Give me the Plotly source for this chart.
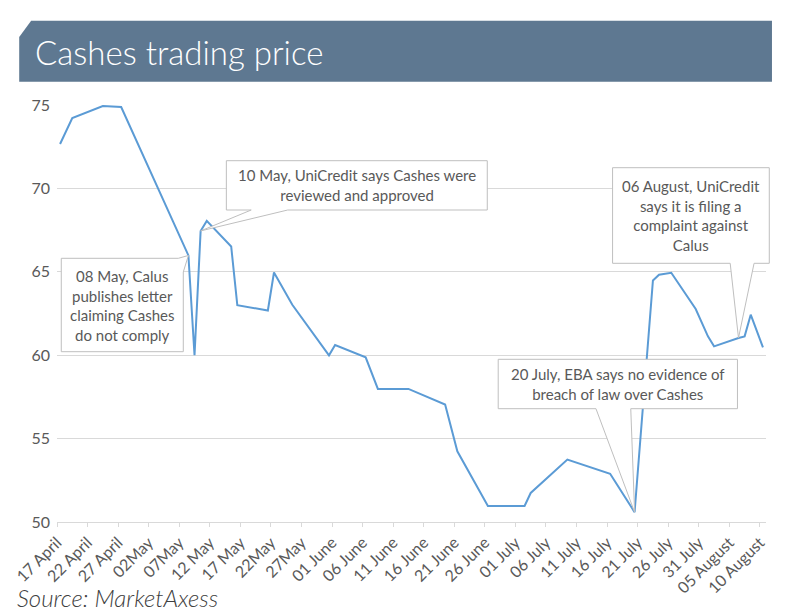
import plotly.graph_objects as go
import pandas as pd

# ---------------- data ----------------
dates = ["2018-04-17", "2018-04-19", "2018-04-24", "2018-04-27", "2018-05-08", "2018-05-09",
         "2018-05-10", "2018-05-11", "2018-05-15", "2018-05-16", "2018-05-21", "2018-05-22",
         "2018-05-25", "2018-05-31", "2018-06-01", "2018-06-06", "2018-06-08", "2018-06-13",
         "2018-06-19", "2018-06-21", "2018-06-26", "2018-07-02", "2018-07-03", "2018-07-09",
         "2018-07-16", "2018-07-20", "2018-07-23", "2018-07-24", "2018-07-26", "2018-07-30",
         "2018-08-01", "2018-08-02", "2018-08-06", "2018-08-07", "2018-08-08", "2018-08-10"]
prices = [72.66, 74.22, 74.94, 74.88, 65.98, 60.0,
          67.45, 68.05, 66.52, 63.0, 62.68, 64.96,
          63.02, 59.99, 60.61, 59.87, 57.98, 57.98,
          57.04, 54.24, 50.96, 50.96, 51.74, 53.74,
          52.89, 50.59, 64.48, 64.82, 64.94, 62.77,
          61.13, 60.53, 61.03, 61.13, 62.43, 60.47]

tick_labels = ["17 April", "22 April", "27 April", "02May", "07May", "12 May", "17 May", "22May",
               "27May", "01 June", "06 June", "11 June", "16 June", "21 June", "26 June", "01 July",
               "06 July", "11 July", "16 July", "21 July", "26 July", "31 July", "05 August", "10 August"]
y_ticks = [50, 55, 60, 65, 70, 75]

event_dates = ["2018-05-10", "2018-05-08", "2018-08-06", "2018-07-20"]
event_texts = ["10 May, UniCredit says Cashes were<br>reviewed and approved",
               "08 May, Calus<br>publishes letter<br>claiming Cashes<br>do not comply",
               "06 August, UniCredit<br>says it is filing a<br>complaint against<br>Calus",
               "20 July, EBA says no evidence of<br>breach of law over Cashes"]

title_text = "Cashes trading price"
source_text = "Source: MarketAxess"

# ---------------- layout geometry ----------------
W, H = 800, 612
ML, MR, MT, MB = 53, 34, 105, 90
PW, PH = W - ML - MR, H - MT - MB
X0 = pd.Timestamp("2018-04-16 12:00")
X1 = pd.Timestamp("2018-08-10 12:00")
Y0, Y1 = 50, 75

def px_x(px):
    return (px - ML) / PW

def px_y(py):
    return (H - MB - py) / PH

def data_x(d):
    return (pd.Timestamp(d) - X0) / (X1 - X0)

def data_y(v):
    return (v - Y0) / (Y1 - Y0)

price_of = dict(zip(dates, prices))

tick_vals = [t - pd.Timedelta(hours=12) for t in pd.date_range("2018-04-17", "2018-08-10", freq="5D")]

TXT = "#595959"
GRID = "#D9D9D9"
FONT = "Lato"

fig = go.Figure()
fig.add_trace(go.Scatter(
    x=pd.to_datetime(dates), y=prices, mode="lines",
    line=dict(color="#5B9BD5", width=2), hoverinfo="skip", showlegend=False))

# ---------------- callouts ----------------
callouts = [
    dict(box=(223.3, 160.7, 485.7, 210.0), kind="bottom", base=(248.3, 285.0)),
    dict(box=(57.3, 258.3, 180.0, 351.7), kind="right", base=(258.3, 272.0)),
    dict(box=(611.7, 167.7, 769.3, 263.3), kind="bottom", base=(730.0, 754.0)),
    dict(box=(496.7, 359.3, 737.3, 408.7), kind="bottom", base=(595.0, 630.0)),
]

shapes = []
annotations = []
for c, d, txt in zip(callouts, event_dates, event_texts):
    x0, y0, x1, y1 = c["box"]
    tx, ty = data_x(d), data_y(price_of[d])
    b0, b1 = c["base"]
    if c["kind"] == "bottom":
        pts = [(px_x(x0), px_y(y0)), (px_x(x1), px_y(y0)), (px_x(x1), px_y(y1)),
               (px_x(b1), px_y(y1)), (tx, ty), (px_x(b0), px_y(y1)), (px_x(x0), px_y(y1))]
    else:
        pts = [(px_x(x0), px_y(y0)), (px_x(x1 - 5), px_y(y0)), (tx, ty),
               (px_x(x1), px_y(b1)), (px_x(x1), px_y(y1)), (px_x(x0), px_y(y1))]
    path = "M " + " L ".join(f"{a:.5f},{b:.5f}" for a, b in pts) + " Z"
    shapes.append(dict(type="path", path=path, xref="paper", yref="paper",
                       fillcolor="white", line=dict(color="#BFBFBF", width=1), layer="above"))
    annotations.append(dict(text=txt, x=px_x((x0 + x1) / 2), y=px_y((y0 + y1) / 2),
                            xref="paper", yref="paper", xanchor="center", yanchor="middle",
                            showarrow=False, align="center",
                            font=dict(family=FONT, size=15, color=TXT)))

# title banner
bpts = [(15, 37), (27, 20.7), (772, 20.7), (772, 81.7), (15, 81.7)]
bpath = "M " + " L ".join(f"{px_x(a):.5f},{px_y(b):.5f}" for a, b in bpts) + " Z"
shapes.insert(0, dict(type="path", path=bpath, xref="paper", yref="paper",
                      fillcolor="#5E7891", line=dict(width=0), layer="above"))

annotations.append(dict(text=title_text, x=px_x(29), y=px_y(52), xref="paper", yref="paper",
                        xanchor="left", yanchor="middle", showarrow=False,
                        font=dict(family=FONT, size=33, color="white", weight=300)))
annotations.append(dict(text=source_text, x=px_x(11), y=px_y(597), xref="paper", yref="paper",
                        xanchor="left", yanchor="middle", showarrow=False,
                        font=dict(family=FONT, size=24, color="#404040", style="italic", weight=300)))

fig.update_layout(
    width=W, height=H,
    margin=dict(l=ML, r=MR, t=MT, b=MB, pad=0),
    paper_bgcolor="white", plot_bgcolor="white",
    shapes=shapes, annotations=annotations,
    xaxis=dict(type="date", range=[X0, X1], tickmode="array", tickvals=tick_vals,
               ticktext=tick_labels, tickangle=-45, showgrid=False, zeroline=False,
               showline=True, linecolor=GRID, linewidth=1, ticks="outside", ticklen=4,
               tickcolor=GRID, tickfont=dict(family=FONT, size=16, color=TXT)),
    yaxis=dict(range=[Y0, Y1], tickmode="array", tickvals=y_ticks, showgrid=True,
               gridcolor=GRID, gridwidth=1, zeroline=False, showline=False, ticks="",
               ticklabelstandoff=6,
               tickfont=dict(family=FONT, size=16, color=TXT)),
)

fig.write_html("out.html")
